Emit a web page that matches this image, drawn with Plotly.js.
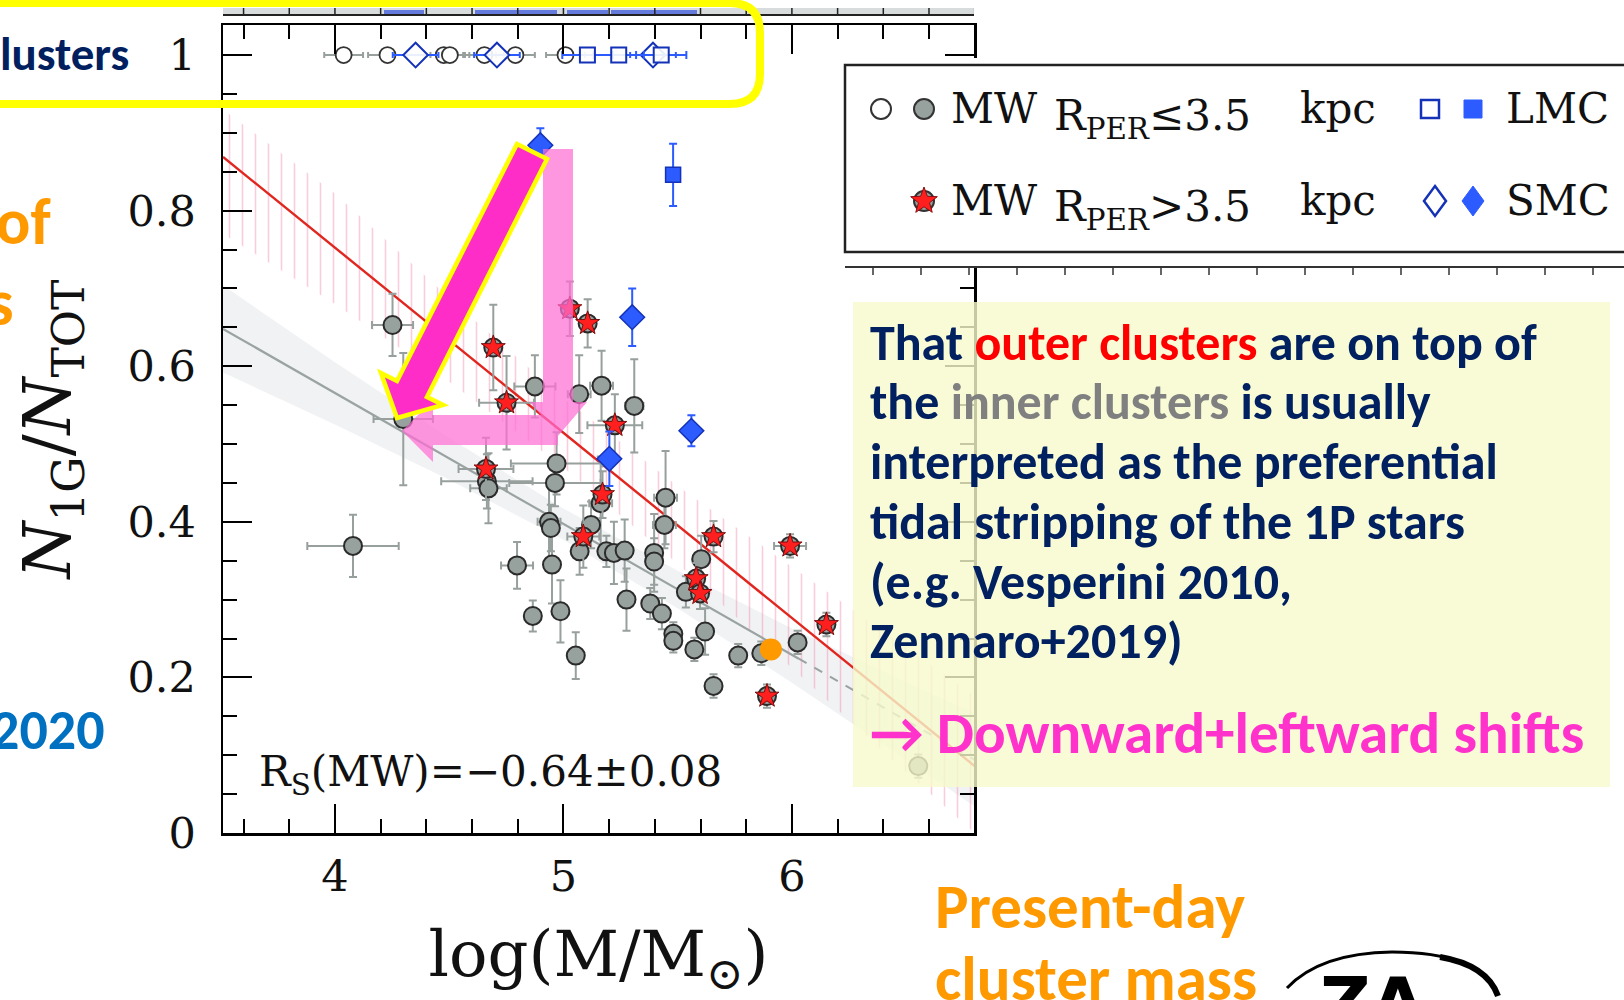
<!DOCTYPE html>
<html>
<head>
<meta charset="utf-8">
<script src="https://cdn.plot.ly/plotly-3.0.1.min.js"></script>
<style>
  html, body { margin: 0; padding: 0; background: #ffffff; }
  #chart { width: 1624px; height: 1000px; }
</style>
</head>
<body>
<div id="chart"></div>
<script>
// ---- Milky Way clusters, pericentre radius <= 3.5 kpc (grey circles) ----
const mwInX  = [4.079, 4.252, 4.299, 4.665, 4.672, 4.797, 4.866, 4.875, 4.937, 4.945,
                4.950, 4.963, 4.970, 4.987, 5.054, 5.069, 5.071, 5.121, 5.163, 5.167,
                5.188, 5.221, 5.268, 5.276, 5.310, 5.380, 5.397, 5.397, 5.431, 5.442,
                5.447, 5.481, 5.481, 5.536, 5.573, 5.603, 5.620, 5.657, 5.765, 5.866,
                6.025, 6.553];
const mwInY  = [0.369, 0.653, 0.532, 0.452, 0.443, 0.344, 0.279, 0.574, 0.400, 0.392,
                0.345, 0.450, 0.475, 0.285, 0.228, 0.564, 0.362, 0.396, 0.424, 0.575,
                0.362, 0.360, 0.363, 0.300, 0.549, 0.295, 0.360, 0.349, 0.282, 0.396,
                0.431, 0.256, 0.247, 0.310, 0.236, 0.352, 0.259, 0.189, 0.228, 0.231,
                0.245, 0.086];
const mwInEx = [0.20, 0.09, 0.13, 0.20, 0.08, 0.07, 0.03, 0.09, 0.05, 0.03,
                0.03, 0.20, 0.20, 0.03, 0.02, 0.05, 0.03, 0.03, 0.05, 0.05,
                0.03, 0.03, 0.03, 0.03, 0.04, 0.03, 0.03, 0.03, 0.03, 0.05,
                0.05, 0.03, 0.03, 0.03, 0.03, 0.03, 0.03, 0.03, 0.03, 0.03,
                0.03, 0.03];
const mwInEy = [0.040, 0.040, 0.085, 0.035, 0.045, 0.030, 0.020, 0.040, 0.050, 0.030,
                0.050, 0.030, 0.040, 0.040, 0.030, 0.050, 0.030, 0.030, 0.060, 0.045,
                0.020, 0.040, 0.040, 0.040, 0.060, 0.020, 0.050, 0.030, 0.020, 0.030,
                0.060, 0.015, 0.015, 0.020, 0.015, 0.030, 0.030, 0.015, 0.015, 0.015,
                0.015, 0.015];

// ---- Milky Way clusters, pericentre radius > 3.5 kpc (grey circle + red star) ----
const mwOutX  = [4.661, 4.693, 4.751, 5.028, 5.087, 5.106, 5.171, 5.225, 5.581, 5.598, 5.657, 5.891, 5.992, 6.151];
const mwOutY  = [0.468, 0.624, 0.553, 0.674, 0.381, 0.655, 0.435, 0.524, 0.327, 0.308, 0.381, 0.176, 0.369, 0.268];
const mwOutEx = [0.12, 0.03, 0.12, 0.03, 0.07, 0.03, 0.03, 0.12, 0.03, 0.03, 0.03, 0.03, 0.07, 0.03];
const mwOutEy = [0.040, 0.055, 0.060, 0.035, 0.040, 0.031, 0.030, 0.040, 0.020, 0.020, 0.020, 0.015, 0.015, 0.015];

// ---- Magellanic Cloud clusters ----
const smcX  = [4.899, 5.201, 5.301, 5.560];
const smcY  = [0.884, 0.481, 0.663, 0.517];
const smcEy = [0.022, 0.035, 0.037, 0.020];
const lmcX  = [5.480];
const lmcY  = [0.846];
const lmcEy = [0.040];

// ---- simple-population clusters (N1G/NTOT = 1) ----
const mwTopX  = [4.038, 4.230, 4.476, 4.503, 4.654, 4.790, 5.009];
const mwTopY  = [1, 1, 1, 1, 1, 1, 1];
const smcTopX = [4.353, 4.709, 5.392];
const smcTopY = [1, 1, 1];
const lmcTopX = [5.105, 5.242, 5.428];
const lmcTopY = [1, 1, 1];

// highlighted cluster
const markX = [5.908];
const markY = [0.236];

// ---- least-squares fits and their uncertainty bands ----
const fitX        = [3.51, 6.8];
const redFitY     = [0.869, 0.086];
const grayFitX    = [3.51, 6.03];
const grayFitY    = [0.648, 0.224];
const grayExtX    = [6.03, 6.8];
const grayExtY    = [0.224, 0.094];
const bandX       = [3.51, 4.0, 4.5, 5.0, 5.5, 6.0, 6.5, 6.8];
const grayBandLo  = [0.592, 0.525, 0.454, 0.377, 0.289, 0.193, 0.094, 0.034];
const grayBandHi  = [0.704, 0.605, 0.508, 0.417, 0.337, 0.263, 0.194, 0.154];
const redBandLo   = [0.770, 0.680, 0.580, 0.470, 0.346, 0.212, 0.078, 0.000];
const redBandHi   = [0.930, 0.822, 0.688, 0.559, 0.446, 0.342, 0.238, 0.176];

// ---- page geometry helpers (pixel -> paper) ----
const PL = 223, PR = 974, PT = 25, PB = 833;
const fx = v => (v - PL) / (PR - PL);
const fy = v => (PB - v) / (PB - PT);
const P = (x, y) => fx(x).toFixed(5) + ',' + fy(y).toFixed(5);
function poly(pts) { return 'M' + pts.map(p => P(p[0], p[1])).join(' L') + ' Z'; }

const GREY_FILL = '#97a19e', GREY_EDGE = '#2b2b2b', GREY_BAR = '#97a09d';
const BLUE = '#2c5cff', BLUE_EDGE = '#1432b8';
const serif = 'DejaVu Serif, Liberation Serif, serif';
const slide = 'Carlito, Lato, Open Sans, sans-serif';

const traces = [
  // grey band
  { x: bandX, y: grayBandLo, mode: 'lines', line: { width: 0 }, hoverinfo: 'skip' },
  { x: bandX, y: grayBandHi, mode: 'lines', line: { width: 0 }, fill: 'tonexty',
    fillcolor: 'rgba(214,220,224,0.36)', hoverinfo: 'skip' },
  // red hatched band
  { x: bandX, y: redBandLo, mode: 'lines', line: { width: 0 }, hoverinfo: 'skip' },
  { x: bandX, y: redBandHi, mode: 'lines', line: { width: 0 }, fill: 'tonexty',
    fillcolor: 'rgba(255,255,255,0)',
    fillpattern: { shape: '|', size: 13, solidity: 0.12, fgcolor: 'rgba(242,135,172,0.42)', bgcolor: 'rgba(255,255,255,0)' },
    hoverinfo: 'skip' },
  // fits
  { x: grayFitX, y: grayFitY, mode: 'lines', line: { color: '#9aa3a1', width: 2.2 } },
  { x: grayExtX, y: grayExtY, mode: 'lines', line: { color: '#9aa3a1', width: 2, dash: 'dash' } },
  { x: fitX, y: redFitY, mode: 'lines', line: { color: '#e0261e', width: 2.4 } },
  // MW inner
  { x: mwInX, y: mwInY, mode: 'markers', name: 'MW inner',
    error_x: { type: 'data', array: mwInEx, color: GREY_BAR, thickness: 2, width: 4 },
    error_y: { type: 'data', array: mwInEy, color: GREY_BAR, thickness: 2, width: 4 },
    marker: { symbol: 'circle', size: 18, color: GREY_FILL, line: { color: GREY_EDGE, width: 2 } } },
  // MW outer
  { x: mwOutX, y: mwOutY, mode: 'markers', name: 'MW outer',
    error_x: { type: 'data', array: mwOutEx, color: GREY_BAR, thickness: 2, width: 4 },
    error_y: { type: 'data', array: mwOutEy, color: GREY_BAR, thickness: 2, width: 4 },
    marker: { symbol: 'circle', size: 18, color: GREY_FILL, line: { color: GREY_EDGE, width: 2 } } },
  { x: mwOutX, y: mwOutY, mode: 'markers', hoverinfo: 'skip',
    marker: { symbol: 'star', size: 18, color: '#ff1f1f', line: { color: '#7a0d0d', width: 1 } } },
  // SMC / LMC
  { x: smcX, y: smcY, mode: 'markers', name: 'SMC',
    error_y: { type: 'data', array: smcEy, color: BLUE, thickness: 2, width: 4 },
    marker: { symbol: 'diamond', size: 19, color: BLUE, line: { color: BLUE_EDGE, width: 1.5 } } },
  { x: lmcX, y: lmcY, mode: 'markers', name: 'LMC',
    error_y: { type: 'data', array: lmcEy, color: BLUE, thickness: 2, width: 4 },
    marker: { symbol: 'square', size: 15, color: BLUE, line: { color: BLUE_EDGE, width: 1.5 } } },
  // top row, N1G/NTOT = 1
  { x: mwTopX, y: mwTopY, mode: 'markers',
    error_x: { type: 'constant', value: 0.085, color: GREY_BAR, thickness: 2, width: 3 },
    marker: { symbol: 'circle', size: 16, color: '#ffffff', line: { color: '#333333', width: 1.8 } } },
  { x: smcTopX, y: smcTopY, mode: 'markers',
    error_x: { type: 'constant', value: 0.1, color: BLUE, thickness: 2, width: 3 },
    marker: { symbol: 'diamond', size: 19, color: 'rgba(255,255,255,0.9)', line: { color: BLUE_EDGE, width: 2 } } },
  { x: lmcTopX, y: lmcTopY, mode: 'markers',
    error_x: { type: 'constant', value: 0.11, color: BLUE, thickness: 2, width: 4 },
    marker: { symbol: 'square', size: 15, color: 'rgba(255,255,255,0.9)', line: { color: BLUE_EDGE, width: 2 } } },
  // highlighted cluster
  { x: markX, y: markY, mode: 'markers', marker: { symbol: 'circle', size: 22, color: '#ff9900' } }
];

// ---- decorative shapes ----
const shapes = [];
// strip of the panel above
shapes.push({ type: 'rect', xref: 'paper', yref: 'paper', x0: fx(PL), x1: fx(PR), y0: fy(15), y1: fy(8),
  fillcolor: '#d9dcdc', line: { width: 0 } });
[[384, 424], [475, 516], [516, 557], [567, 608], [611, 697]].forEach(s => shapes.push({
  type: 'rect', xref: 'paper', yref: 'paper', x0: fx(s[0]), x1: fx(s[1]), y0: fy(14), y1: fy(10),
  fillcolor: 'rgba(50,80,220,0.7)', line: { width: 0 } }));
shapes.push({ type: 'line', xref: 'paper', yref: 'paper', x0: fx(PL), x1: fx(PR), y0: fy(15), y1: fy(15),
  line: { color: '#222', width: 2 } });
for (let t = 3.6; t < 6.81; t += 0.2) {
  shapes.push({ type: 'line', xref: 'x', yref: 'paper', x0: t, x1: t, y0: fy(15), y1: fy(8),
    line: { color: '#222', width: 1.5 } });
}
// legend panel
shapes.push({ type: 'rect', xref: 'paper', yref: 'paper', x0: fx(844), x1: fx(1640), y0: fy(266), y1: fy(58),
  fillcolor: '#ffffff', line: { width: 0 }, layer: 'above' });
shapes.push({ type: 'rect', xref: 'paper', yref: 'paper', x0: fx(845), x1: fx(1650), y0: fy(252), y1: fy(65),
  fillcolor: '#ffffff', line: { color: '#222', width: 2.5 }, layer: 'above' });
shapes.push({ type: 'line', xref: 'paper', yref: 'paper', x0: fx(845), x1: fx(1630), y0: fy(267), y1: fy(267),
  line: { color: '#333', width: 2 }, layer: 'above' });
for (let k = 0; k < 16; k++) {
  const xx = 873 + 48 * k;
  shapes.push({ type: 'line', xref: 'paper', yref: 'paper', x0: fx(xx), x1: fx(xx), y0: fy(267), y1: fy(275),
    line: { color: '#333', width: 1.5 }, layer: 'above' });
}
// legend symbols
const R1 = 109, R2 = 201;
function circ(cx, cy, r, fill, edge, w) {
  return { type: 'circle', xref: 'paper', yref: 'paper', x0: fx(cx - r), x1: fx(cx + r), y0: fy(cy + r), y1: fy(cy - r),
    fillcolor: fill, line: { color: edge, width: w }, layer: 'above' };
}
function sq(cx, cy, h, fill, edge, w) {
  return { type: 'rect', xref: 'paper', yref: 'paper', x0: fx(cx - h), x1: fx(cx + h), y0: fy(cy + h), y1: fy(cy - h),
    fillcolor: fill, line: { color: edge, width: w }, layer: 'above' };
}
function diam(cx, cy, w, h, fill, edge, lw) {
  return { type: 'path', path: poly([[cx, cy - h], [cx + w, cy], [cx, cy + h], [cx - w, cy]]),
    xref: 'paper', yref: 'paper', fillcolor: fill, line: { color: edge, width: lw }, layer: 'above' };
}
function star(cx, cy, ro, ri) {
  const pts = [];
  for (let i = 0; i < 10; i++) {
    const a = -Math.PI / 2 + i * Math.PI / 5, r = i % 2 ? ri : ro;
    pts.push([cx + r * Math.cos(a), cy + r * Math.sin(a)]);
  }
  return { type: 'path', path: poly(pts), xref: 'paper', yref: 'paper', fillcolor: '#ff1f1f',
    line: { color: '#8b0e0e', width: 1 }, layer: 'above' };
}
shapes.push(circ(881, R1, 10, '#ffffff', '#333', 2));
shapes.push(circ(924, R1, 10, GREY_FILL, '#333', 2));
shapes.push(sq(1430, R1, 9, '#ffffff', BLUE_EDGE, 2.5));
shapes.push(sq(1473, R1, 9, BLUE, BLUE, 1));
shapes.push(circ(924, R2, 10, GREY_FILL, '#333', 2));
shapes.push(star(924, R2, 14, 5.8));
shapes.push(diam(1435, R2, 11, 15, '#ffffff', BLUE_EDGE, 2.5));
shapes.push(diam(1473, R2, 11, 15, BLUE, BLUE, 1));

// explanatory text box
shapes.push({ type: 'rect', xref: 'paper', yref: 'paper', x0: fx(853), x1: fx(1610), y0: fy(787), y1: fy(302),
  fillcolor: 'rgb(246,250,204)', opacity: 0.8, line: { width: 0 }, layer: 'above' });
// light pink L-shaped arrow
shapes.push({ type: 'path', xref: 'paper', yref: 'paper', layer: 'above', opacity: 0.72,
  path: poly([[543, 149], [573, 149], [573, 402], [587, 402], [558, 436], [558, 445], [433, 445], [433, 462],
              [402, 431], [433, 400], [433, 415], [541, 415], [530, 402], [543, 402]]),
  fillcolor: 'rgb(255,110,212)', line: { width: 0 } });
// magenta diagonal arrow with yellow rim
shapes.push({ type: 'path', xref: 'paper', yref: 'paper', layer: 'above',
  path: poly([[547, 159], [427, 397], [443, 405], [397, 418], [381, 373], [397, 381], [517, 144]]),
  fillcolor: '#ff2dc8', line: { color: '#ffff00', width: 4.5 } });
// yellow rounded frame around the top row
shapes.push({ type: 'path', xref: 'paper', yref: 'paper', layer: 'above',
  path: 'M' + P(-30, 3) + ' L' + P(730, 3) + ' Q' + P(760, 3) + ' ' + P(760, 33) + ' L' + P(760, 74) +
        ' Q' + P(760, 104) + ' ' + P(730, 104) + ' L' + P(-30, 104),
  line: { color: '#ffff00', width: 8 } });
// logo outline at the bottom edge
shapes.push({ type: 'path', xref: 'paper', yref: 'paper', layer: 'above',
  path: 'M' + P(1287, 988) + ' Q' + P(1320, 953) + ' ' + P(1392, 952) + ' Q' + P(1478, 952) + ' ' + P(1498, 994),
  line: { color: '#000', width: 3 } });
shapes.push({ type: 'path', xref: 'paper', yref: 'paper', layer: 'above',
  path: 'M' + P(1440, 957) + ' Q' + P(1487, 965) + ' ' + P(1498, 996),
  line: { color: '#000', width: 6 } });

// ---- text ----
function note(text, x, y, o) {
  return Object.assign({ text: text, xref: 'paper', yref: 'paper', x: fx(x), y: fy(y), showarrow: false,
    xanchor: 'left', yanchor: 'middle' }, o || {});
}
const NAVY = '#002060';
const boxFont = { family: slide, size: 50, color: NAVY, weight: 700 };
const legFont = { family: serif, size: 42, color: '#111' };
const annotations = [
  note('R<sub>S</sub>(MW)=−0.64±0.08', 257, 774, { font: { family: serif, size: 42, color: '#111' } }),
  // legend words
  note('MW', 949, R1, { font: legFont }),
  note('R<sub>PER</sub>≤3.5', 1052, R1 + 9, { font: legFont }),
  note('kpc', 1298, R1, { font: legFont }),
  note('LMC', 1504, R1, { font: legFont }),
  note('MW', 949, R2, { font: legFont }),
  note('R<sub>PER</sub>&gt;3.5', 1052, R2 + 9, { font: legFont }),
  note('kpc', 1298, R2, { font: legFont }),
  note('SMC', 1504, R2, { font: legFont }),
  // text box
  note('That <span style="color:#ff0000">outer clusters</span> are on top of', 868, 342, { font: boxFont }),
  note('the <span style="color:#808080">inner clusters</span> is usually', 868, 401, { font: boxFont }),
  note('interpreted as the preferential', 868, 461, { font: boxFont }),
  note('tidal stripping of the 1P stars', 868, 521, { font: boxFont }),
  note('(e.g. Vesperini 2010,', 868, 581, { font: boxFont }),
  note('Zennaro+2019)', 868, 640, { font: boxFont }),
  note('→ Downward+leftward shifts', 868, 733, { font: { family: slide, size: 59, color: '#ff33cc', weight: 700 } }),
  // slide labels around the figure
  note('lusters', -2, 54, { font: { family: slide, size: 47, color: NAVY, weight: 700 } }),
  note('of', 53, 222, { xanchor: 'right', font: { family: slide, size: 64, color: '#ff9900', weight: 700 } }),
  note('s', 16, 303, { xanchor: 'right', font: { family: slide, size: 64, color: '#ff9900', weight: 700 } }),
  note('2020', 107, 730, { xanchor: 'right', font: { family: slide, size: 56, color: '#0070c0', weight: 700 } }),
  note('Present-day', 933, 906, { font: { family: slide, size: 63, color: '#ff9900', weight: 700 } }),
  note('cluster mass', 933, 978, { font: { family: slide, size: 63, color: '#ff9900', weight: 700 } }),
  note('ZA', 1318, 960, { yanchor: 'top', font: { family: 'DejaVu Sans', size: 70, color: '#000', weight: 700 } })
];

const axisCommon = {
  showgrid: false, zeroline: false, showline: true, linecolor: '#000', linewidth: 2.5,
  ticks: 'inside', ticklen: 29, tickwidth: 2, tickcolor: '#000', mirror: 'ticks',
  tickfont: { family: serif, size: 43, color: '#111' }
};

const layout = {
  width: 1624, height: 1000,
  margin: { l: PL, r: 1624 - PR, t: PT, b: 1000 - PB },
  paper_bgcolor: '#ffffff', plot_bgcolor: 'rgba(0,0,0,0)',
  showlegend: false,
  font: { family: serif },
  xaxis: Object.assign({}, axisCommon, {
    range: [3.51, 6.797], tickmode: 'linear', tick0: 4, dtick: 1, ticklabelstandoff: 4,
    minor: { ticks: 'inside', ticklen: 14, tickwidth: 2, tickcolor: '#000', tickmode: 'linear', tick0: 4, dtick: 0.2, showgrid: false },
    title: { text: 'log(M/M<sub>⊙</sub>)', font: { family: serif, size: 64, color: '#111' }, standoff: 37 }
  }),
  yaxis: Object.assign({}, axisCommon, {
    range: [0, 1.0386], tickmode: 'linear', tick0: 0, dtick: 0.2, ticklabelstandoff: 16,
    minor: { ticks: 'inside', ticklen: 14, tickwidth: 2, tickcolor: '#000', tickmode: 'linear', tick0: 0, dtick: 0.05, showgrid: false },
    title: { text: '<i>N</i><sub>1G</sub>/<i>N</i><sub>TOT</sub>', font: { family: serif, size: 65, color: '#111' }, standoff: 36 }
  }),
  shapes: shapes,
  annotations: annotations
};

Plotly.newPlot('chart', traces, layout, { displayModeBar: false, staticPlot: true });
</script>
</body>
</html>
